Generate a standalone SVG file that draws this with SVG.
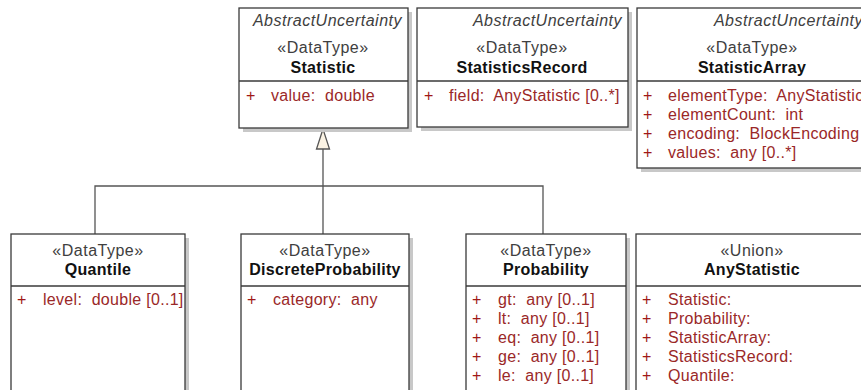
<svg xmlns="http://www.w3.org/2000/svg" width="861" height="390" viewBox="0 0 861 390">
<style>
.bg{fill:#fff}
.box{fill:#fff;stroke:#3a3a3a;stroke-width:1.3}
.sh{fill:#c8c8c8}
.div{stroke:#3a3a3a;stroke-width:1.3}
text{font-family:"Liberation Sans",Arial,sans-serif;font-size:16px}
.abs{font-style:italic;fill:#404040;text-anchor:end;letter-spacing:0.5px}
.st{fill:#404040;text-anchor:middle;letter-spacing:0.5px}
.nm{font-weight:bold;fill:#111;text-anchor:middle;letter-spacing:0.3px}
.pl{fill:#a01818}
.at{fill:#9a2828;letter-spacing:0.3px;white-space:pre}
.con{fill:none;stroke:#555;stroke-width:1.3}
.tri{fill:#fbf3e4;stroke:#555;stroke-width:1.3}
</style>
<rect class="bg" x="0" y="0" width="861" height="390"/>

<g id="connectors">
<path class="con" d="M323,149 V234 M95,234 V186 H543 V234"/>
<polygon class="tri" points="323,129 316.5,149 329.5,149"/>
</g>

<g id="Statistic">
<rect class="sh" x="243" y="12" width="169" height="120"/>
<rect class="box" x="239" y="8" width="169" height="120"/>
<line class="div" x1="239" y1="81" x2="408" y2="81"/>
<text class="abs" x="402" y="26">AbstractUncertainty</text>
<text class="st" x="323" y="53">«DataType»</text>
<text class="nm" x="323" y="73">Statistic</text>
<text class="pl" x="246" y="101">+</text>
<text class="at" x="271" y="101" xml:space="preserve">value:  double</text>
</g>

<g id="StatisticsRecord">
<rect class="sh" x="421" y="12" width="211" height="119"/>
<rect class="box" x="417" y="8" width="211" height="119"/>
<line class="div" x1="417" y1="81" x2="628" y2="81"/>
<text class="abs" x="622" y="26">AbstractUncertainty</text>
<text class="st" x="522" y="53">«DataType»</text>
<text class="nm" x="522" y="73">StatisticsRecord</text>
<text class="pl" x="424" y="101">+</text>
<text class="at" x="449" y="101" xml:space="preserve">field:  AnyStatistic [0..*]</text>
</g>

<g id="StatisticArray">
<rect class="sh" x="641" y="12" width="232" height="160"/>
<rect class="box" x="637" y="8" width="232" height="160"/>
<line class="div" x1="637" y1="81" x2="869" y2="81"/>
<text class="abs" x="863" y="26">AbstractUncertainty</text>
<text class="st" x="752" y="53">«DataType»</text>
<text class="nm" x="752" y="73">StatisticArray</text>
<text class="pl" x="643" y="101">+</text>
<text class="at" x="668" y="101" xml:space="preserve">elementType:  AnyStatistic</text>
<text class="pl" x="643" y="120">+</text>
<text class="at" x="668" y="120" xml:space="preserve">elementCount:  int</text>
<text class="pl" x="643" y="139">+</text>
<text class="at" x="668" y="139" xml:space="preserve">encoding:  BlockEncoding</text>
<text class="pl" x="643" y="158">+</text>
<text class="at" x="668" y="158" xml:space="preserve">values:  any [0..*]</text>
</g>

<g id="Quantile">
<rect class="sh" x="15" y="238" width="174" height="170"/>
<rect class="box" x="11" y="234" width="174" height="170"/>
<line class="div" x1="11" y1="286" x2="185" y2="286"/>
<text class="st" x="98" y="256">«DataType»</text>
<text class="nm" x="98" y="275">Quantile</text>
<text class="pl" x="17" y="305">+</text>
<text class="at" x="43" y="305" xml:space="preserve">level:  double [0..1]</text>
</g>

<g id="DiscreteProbability">
<rect class="sh" x="245" y="238" width="168" height="170"/>
<rect class="box" x="241" y="234" width="168" height="170"/>
<line class="div" x1="241" y1="286" x2="409" y2="286"/>
<text class="st" x="325" y="256">«DataType»</text>
<text class="nm" x="325" y="275">DiscreteProbability</text>
<text class="pl" x="247" y="305">+</text>
<text class="at" x="273" y="305" xml:space="preserve">category:  any</text>
</g>

<g id="Probability">
<rect class="sh" x="470" y="238" width="160" height="170"/>
<rect class="box" x="466" y="234" width="160" height="170"/>
<line class="div" x1="466" y1="286" x2="626" y2="286"/>
<text class="st" x="546" y="256">«DataType»</text>
<text class="nm" x="546" y="275">Probability</text>
<text class="pl" x="472" y="305">+</text>
<text class="at" x="498" y="305" xml:space="preserve">gt:  any [0..1]</text>
<text class="pl" x="472" y="324">+</text>
<text class="at" x="498" y="324" xml:space="preserve">lt:  any [0..1]</text>
<text class="pl" x="472" y="343">+</text>
<text class="at" x="498" y="343" xml:space="preserve">eq:  any [0..1]</text>
<text class="pl" x="472" y="362">+</text>
<text class="at" x="498" y="362" xml:space="preserve">ge:  any [0..1]</text>
<text class="pl" x="472" y="381">+</text>
<text class="at" x="498" y="381" xml:space="preserve">le:  any [0..1]</text>
</g>

<g id="AnyStatistic">
<rect class="sh" x="640" y="238" width="233" height="170"/>
<rect class="box" x="636" y="234" width="233" height="170"/>
<line class="div" x1="636" y1="286" x2="869" y2="286"/>
<text class="st" x="752" y="256">«Union»</text>
<text class="nm" x="752" y="275">AnyStatistic</text>
<text class="pl" x="642" y="305">+</text>
<text class="at" x="668" y="305">Statistic:</text>
<text class="pl" x="642" y="324">+</text>
<text class="at" x="668" y="324">Probability:</text>
<text class="pl" x="642" y="343">+</text>
<text class="at" x="668" y="343">StatisticArray:</text>
<text class="pl" x="642" y="362">+</text>
<text class="at" x="668" y="362">StatisticsRecord:</text>
<text class="pl" x="642" y="381">+</text>
<text class="at" x="668" y="381">Quantile:</text>
</g>
</svg>
